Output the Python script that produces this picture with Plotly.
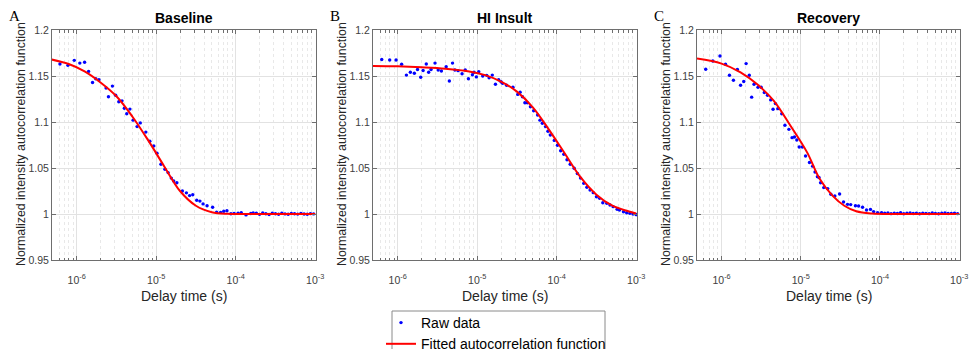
import plotly.graph_objects as go

# ---------------- data ----------------
panel_titles = ["Baseline", "HI Insult", "Recovery"]
panel_letters = ["A", "B", "C"]

x_tick_vals = [1e-6, 1e-5, 1e-4, 1e-3]
x_tick_text = ["10<sup>-6</sup>", "10<sup>-5</sup>", "10<sup>-4</sup>", "10<sup>-3</sup>"]
y_tick_vals = [0.95, 1.0, 1.05, 1.1, 1.15, 1.2]
y_tick_text = ["0.95", "1", "1.05", "1.1", "1.15", "1.2"]

# Panel A (Baseline) raw data: log10(delay) and g2
a_raw_logtau = [-6.21, -6.11, -6.03, -5.96, -5.90, -5.85, -5.80, -5.76, -5.72, -5.63,
                -5.60, -5.55, -5.51, -5.47, -5.43, -5.40, -5.37, -5.33, -5.29, -5.24,
                -5.20, -5.13, -5.08, -5.03, -4.99, -4.94, -4.89, -4.85, -4.81, -4.78,
                -4.74, -4.67, -4.62, -4.58, -4.54, -4.49, -4.45, -4.41, -4.36, -4.29,
                -4.24, -4.19, -4.15, -4.11, -4.06, -4.02, -3.97, -3.93, -3.87, -3.81,
                -3.78, -3.74, -3.70, -3.66, -3.62, -3.58, -3.54, -3.50, -3.46, -3.42,
                -3.38, -3.34, -3.30, -3.26, -3.22, -3.18, -3.14, -3.10, -3.06, -3.02]
a_raw_g2 = [1.163, 1.1616, 1.167, 1.164, 1.165, 1.155, 1.143, 1.147, 1.146, 1.137,
            1.1275, 1.139, 1.129, 1.122, 1.123, 1.115, 1.109, 1.114, 1.102, 1.095,
            1.099, 1.089, 1.079, 1.074, 1.066, 1.054, 1.0486, 1.045, 1.039, 1.036,
            1.034, 1.025, 1.023, 1.020, 1.021, 1.015, 1.014, 1.011, 1.009, 1.0073,
            1.002, 1.0018, 1.003, 1.0036, 1.0003, 1.0006, 1.001, 1.0015, 0.999, 1.0005,
            1.0012, 1.0008, 0.9996, 1.0012, 1.0003, 0.9995, 1.0008, 1.0002, 0.9998, 1.0010,
            1.0001, 0.9997, 1.0006, 1.0002, 0.9999, 1.0007, 1.0000, 0.9998, 1.0004, 1.0001]
a_fit_logtau = [-6.32, -6.1, -5.9, -5.7, -5.5, -5.3, -5.1, -4.9, -4.7, -4.5, -4.3, -4.1, -3.9, -3.5, -3.0]
a_fit_g2 = [1.168, 1.163, 1.155, 1.143, 1.128, 1.106, 1.080, 1.052, 1.025, 1.009, 1.002, 1.0002, 1.0, 1.0, 1.0]

# Panel B (HI Insult)
b_raw_logtau = [-6.20, -6.10, -6.02, -5.95, -5.89, -5.84, -5.79, -5.75, -5.71, -5.68,
                -5.64, -5.61, -5.58, -5.53, -5.49, -5.45, -5.39, -5.35, -5.31, -5.28,
                -5.24, -5.19, -5.15, -5.11, -5.06, -5.04, -5.01, -4.98, -4.93, -4.88,
                -4.85, -4.81, -4.77, -4.73, -4.70, -4.68, -4.63, -4.55, -4.49, -4.46,
                -4.43, -4.40, -4.37, -4.33, -4.29, -4.24, -4.21, -4.18, -4.14, -4.11,
                -4.08, -4.03, -3.99, -3.95, -3.91, -3.87, -3.83, -3.78, -3.74, -3.70,
                -3.66, -3.62, -3.58, -3.54, -3.50, -3.46, -3.42, -3.37, -3.33, -3.29,
                -3.24, -3.21, -3.16, -3.12, -3.08, -3.04, -3.00]
b_raw_g2 = [1.168, 1.1674, 1.1674, 1.1627, 1.151, 1.154, 1.153, 1.157, 1.1486, 1.156,
            1.163, 1.154, 1.157, 1.164, 1.1565, 1.1555, 1.160, 1.1446, 1.164, 1.1565,
            1.1558, 1.1525, 1.1565, 1.147, 1.1514, 1.154, 1.149, 1.1547, 1.150, 1.1507,
            1.148, 1.151, 1.141, 1.146, 1.1438, 1.142, 1.140, 1.1377, 1.130, 1.1323,
            1.1275, 1.121, 1.121, 1.1166, 1.1123, 1.1076, 1.102, 1.0986, 1.095, 1.090,
            1.0859, 1.080, 1.0747, 1.0688, 1.065, 1.059, 1.054, 1.0497, 1.044, 1.039,
            1.0333, 1.029, 1.026, 1.0232, 1.0188, 1.017, 1.0123, 1.0116, 1.0098, 1.008,
            1.0051, 1.0043, 1.0025, 1.0014, 1.0007, 1.0, 0.9993]
b_fit_logtau = [-6.31, -6.0, -5.7, -5.4, -5.1, -4.9, -4.7, -4.5, -4.3, -4.1, -3.9, -3.7, -3.5, -3.3, -3.1, -3.0]
b_fit_g2 = [1.161, 1.1605, 1.1595, 1.158, 1.155, 1.151, 1.144, 1.133, 1.116, 1.092, 1.066, 1.040, 1.021, 1.009, 1.003, 1.0005]

# Panel C (Recovery)
c_raw_logtau = [-6.20, -6.11, -6.02, -5.95, -5.90, -5.85, -5.80, -5.76, -5.72, -5.69,
                -5.65, -5.62, -5.59, -5.54, -5.50, -5.46, -5.42, -5.38, -5.35, -5.32,
                -5.29, -5.24, -5.20, -5.15, -5.11, -5.08, -5.05, -5.02, -4.98, -4.94,
                -4.89, -4.85, -4.82, -4.77, -4.79, -4.75, -4.71, -4.66, -4.62, -4.57,
                -4.51, -4.46, -4.41, -4.37, -4.31, -4.27, -4.22, -4.17, -4.12, -4.08,
                -4.03, -3.98, -3.94, -3.90, -3.86, -3.82, -3.78, -3.74, -3.70, -3.66,
                -3.62, -3.58, -3.54, -3.50, -3.46, -3.42, -3.38, -3.34, -3.30, -3.26,
                -3.22, -3.18, -3.14, -3.10, -3.06, -3.02]
c_raw_g2 = [1.1573, 1.1663, 1.1717, 1.1627, 1.1508, 1.1453, 1.157, 1.140, 1.144, 1.1635,
            1.1508, 1.127, 1.141, 1.1377, 1.1377, 1.132, 1.129, 1.124, 1.1138, 1.120,
            1.1145, 1.109, 1.0964, 1.092, 1.083, 1.0837, 1.0804, 1.0728, 1.0728, 1.063,
            1.0559, 1.052, 1.0457, 1.0396, 1.0406, 1.034, 1.0287, 1.0276, 1.0214, 1.0196,
            1.0217, 1.013, 1.0105, 1.0102, 1.009, 1.0087, 1.0073, 1.0044, 1.005, 1.0026,
            1.0015, 1.0015, 1.0008, 1.0012, 1.0004, 1.0010, 1.0006, 1.0013, 1.0003, 1.0009,
            1.0011, 1.0005, 1.0008, 1.0002, 1.0010, 1.0007, 1.0004, 1.0012, 1.0006, 1.0003,
            1.0009, 1.0012, 1.0005, 1.0007, 1.0010, 1.0004]
c_fit_logtau = [-6.31, -6.0, -5.76, -5.55, -5.34, -5.13, -4.92, -4.76, -4.6, -4.45, -4.3, -4.1, -3.9, -3.5, -3.0]
c_fit_g2 = [1.169, 1.1635, 1.154, 1.141, 1.123, 1.096, 1.067, 1.038, 1.020, 1.009, 1.003, 1.0005, 1.0, 1.0, 1.0]

panels = [
    (a_raw_logtau, a_raw_g2, a_fit_logtau, a_fit_g2),
    (b_raw_logtau, b_raw_g2, b_fit_logtau, b_fit_g2),
    (c_raw_logtau, c_raw_g2, c_fit_logtau, c_fit_g2),
]

# ---------------- layout geometry (pixels) ----------------
W, H = 969, 349
plot_left = [52, 373, 697]
plot_right = [316, 637, 960]
plot_top, plot_bottom = 30, 260

FONT = "Liberation Sans, Arial, Helvetica, sans-serif"
SERIF = "Liberation Serif, Times New Roman, serif"
AXC = "#6e6e6e"

minor_vals = [k * 10.0 ** e for e in (-7, -6, -5, -4) for k in range(2, 10)]
minor_vals = [v for v in minor_vals if 4.9e-7 < v < 1e-3]

fig = go.Figure()


def px_x(p):
    return p / W


def px_y(p):
    return 1 - p / H


annotations = []
for i, (rl, rg, fl, fg) in enumerate(panels):
    ax = "" if i == 0 else str(i + 1)
    xa = "x" + ax
    ya = "y" + ax
    fig.add_trace(go.Scatter(
        x=[10 ** v for v in rl], y=rg, mode="markers",
        marker=dict(color="#0000ff", size=3.4),
        name="Raw data", showlegend=(i == 0), xaxis=xa, yaxis=ya))
    fig.add_trace(go.Scatter(
        x=[10 ** v for v in fl], y=fg, mode="lines",
        line=dict(color="#ff0000", width=2, shape="spline", smoothing=1.0),
        name="Fitted autocorrelation function", showlegend=(i == 0), xaxis=xa, yaxis=ya))

    xdom = [px_x(plot_left[i]), px_x(plot_right[i])]
    ydom = [px_y(plot_bottom), px_y(plot_top)]
    fig.layout["xaxis" + ax] = dict(
        type="log", domain=xdom, range=[-6.31, -2.99], anchor=ya,
        tickvals=x_tick_vals, ticktext=x_tick_text,
        tickfont=dict(size=10.5, family=FONT, color="#404040"),
        ticklabelstandoff=10,
        showgrid=True, gridcolor="#e2e2e2", gridwidth=1,
        showline=True, linecolor=AXC, linewidth=1, mirror="ticks",
        ticks="inside", ticklen=4, tickcolor=AXC,
        minor=dict(tickvals=minor_vals, ticks="inside", ticklen=2.5, tickcolor=AXC,
                   showgrid=True, gridcolor="#e8e8e8", griddash="dot", gridwidth=1),
        zeroline=False, fixedrange=True)
    fig.layout["yaxis" + ax] = dict(
        domain=ydom, range=[0.95, 1.2], anchor=xa,
        tickvals=y_tick_vals, ticktext=y_tick_text,
        tickfont=dict(size=10.5, family=FONT, color="#404040"),
        showgrid=True, gridcolor="#e2e2e2", gridwidth=1,
        showline=True, linecolor=AXC, linewidth=1, mirror="ticks",
        ticks="inside", ticklen=4, tickcolor=AXC,
        zeroline=False, fixedrange=True)

    cx = (plot_left[i] + plot_right[i]) / 2
    annotations.append(dict(text="<b>" + panel_titles[i] + "</b>", x=px_x(cx), y=px_y(18),
                            xref="paper", yref="paper", showarrow=False,
                            xanchor="center", yanchor="middle",
                            font=dict(size=14, family=FONT, color="black")))
    annotations.append(dict(text="Delay time (s)", x=px_x(cx), y=px_y(296),
                            xref="paper", yref="paper", showarrow=False,
                            xanchor="center", yanchor="middle",
                            font=dict(size=14, family=FONT, color="#262626")))
    annotations.append(dict(text="Normalized intensity autocorrelation function",
                            x=px_x(plot_left[i] - 31), y=px_y(144),
                            xref="paper", yref="paper", showarrow=False, textangle=-90,
                            xanchor="center", yanchor="middle",
                            font=dict(size=12.4, family=FONT, color="#262626")))
    annotations.append(dict(text=panel_letters[i], x=px_x(plot_left[i] - 38), y=px_y(16),
                            xref="paper", yref="paper", showarrow=False,
                            xanchor="center", yanchor="middle",
                            font=dict(size=15, family=SERIF, color="black")))

# legend frame (drawn as a shape so the entries can sit where the reference has them)
legend_box = dict(type="rect", xref="paper", yref="paper", layer="below",
                  x0=px_x(392), x1=px_x(605), y0=px_y(311), y1=px_y(370),
                  line=dict(color="#8a8a8a", width=1), fillcolor="white")

fig.update_layout(
    width=W, height=H,
    margin=dict(l=0, r=0, t=0, b=0, autoexpand=False),
    paper_bgcolor="white", plot_bgcolor="white",
    annotations=annotations,
    shapes=[legend_box],
    showlegend=True,
    legend=dict(x=px_x(381), y=px_y(307), xanchor="left", yanchor="top",
                bgcolor="rgba(0,0,0,0)", borderwidth=0,
                font=dict(size=14, family=FONT, color="black"),
                tracegroupgap=0, itemwidth=30),
)

fig.write_html("out.html")
